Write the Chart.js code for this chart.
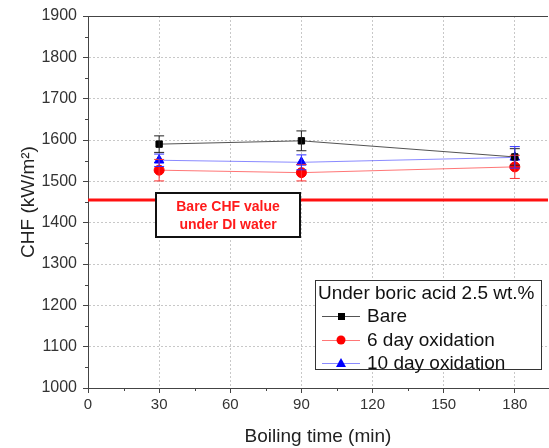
<!DOCTYPE html>
<html>
<head>
<meta charset="utf-8">
<script src="https://cdn.jsdelivr.net/npm/chart.js@4"></script>
<style>
  body { margin: 0; background: #fff; }
  #wrap { width: 549px; height: 448px; }
</style>
</head>
<body>
<div id="wrap"><canvas id="chart" width="549" height="448"></canvas></div>
<script>
// data
const times = [30, 90, 180];
const bare = [1590, 1598, 1559];
const bareErr = [20, 24, 20];
const ox6 = [1527, 1521, 1535];
const ox6Err = [26, 20, 28];
const ox10 = [1551, 1546, 1558];
const ox10Err = [15, 18, 26];
const diWater = 1455;
const xTicks = [0, 30, 60, 90, 120, 150, 180];
const yTicks = [1000, 1100, 1200, 1300, 1400, 1500, 1600, 1700, 1800, 1900];

const FONT = "'Liberation Sans', Arial, sans-serif";

function pts(ys) {
  return times.map((t, i) => ({ x: t, y: ys[i] }));
}

// error bars + minor ticks + frame
const extras = {
  id: 'extras',
  afterDatasetsDraw(c) {
    const ctx = c.ctx, xs = c.scales.x, ys = c.scales.y, a = c.chartArea;
    const errs = [bareErr, ox6Err, ox10Err];
    const cols = ['#222', '#ff3030', '#3030ff'];
    c.data.datasets.slice(0, 3).forEach((ds, k) => {
      ctx.save();
      ctx.strokeStyle = cols[k];
      ctx.lineWidth = 1;
      ds.data.forEach((p, i) => {
        const px = xs.getPixelForValue(p.x);
        const top = ys.getPixelForValue(p.y + errs[k][i]);
        const bot = ys.getPixelForValue(p.y - errs[k][i]);
        ctx.beginPath();
        ctx.moveTo(px, top); ctx.lineTo(px, bot);
        ctx.moveTo(px - 5, top); ctx.lineTo(px + 5, top);
        ctx.moveTo(px - 5, bot); ctx.lineTo(px + 5, bot);
        ctx.stroke();
      });
      ctx.restore();
    });

    // minor ticks
    ctx.save();
    ctx.strokeStyle = '#444';
    ctx.lineWidth = 1;
    ctx.beginPath();
    for (let v = 1050; v < 1900; v += 100) {
      const py = Math.round(ys.getPixelForValue(v)) + 0.5;
      ctx.moveTo(a.left - 3, py); ctx.lineTo(a.left, py);
    }
    for (let v = 15; v < 194; v += 30) {
      const px = Math.round(xs.getPixelForValue(v)) + 0.5;
      ctx.moveTo(px, a.bottom); ctx.lineTo(px, a.bottom + 3);
    }
    // top frame
    ctx.moveTo(a.left, a.top + 0.5); ctx.lineTo(a.right, a.top + 0.5);
    ctx.stroke();
    ctx.restore();

    // annotation box
    ctx.save();
    ctx.fillStyle = '#fff';
    ctx.fillRect(156, 193, 144, 44);
    ctx.strokeStyle = '#111';
    ctx.lineWidth = 2;
    ctx.strokeRect(156, 193, 144, 44);
    ctx.fillStyle = '#ff1a1a';
    ctx.font = 'bold 14px ' + FONT;
    ctx.textAlign = 'center';
    ctx.textBaseline = 'middle';
    ctx.fillText('Bare CHF value', 228, 207);
    ctx.fillText('under DI water', 228, 225);
    ctx.restore();

    // legend
    ctx.save();
    ctx.fillStyle = '#fff';
    ctx.fillRect(315.5, 280.5, 226, 89);
    ctx.strokeStyle = '#333';
    ctx.lineWidth = 1;
    ctx.strokeRect(315.5, 280.5, 226, 89);
    ctx.fillStyle = '#111';
    ctx.font = '19px ' + FONT;
    ctx.textBaseline = 'middle';
    ctx.fillText('Under boric acid 2.5 wt.%', 318, 294);
    const rows = [
      ['Bare', 316, c.data.datasets[0]],
      ['6 day oxidation', 340, c.data.datasets[1]],
      ['10 day oxidation', 363, c.data.datasets[2]]
    ];
    rows.forEach(([label, y, ds]) => {
      ctx.strokeStyle = ds.borderColor;
      ctx.beginPath();
      ctx.moveTo(322, y + 0.5); ctx.lineTo(360, y + 0.5);
      ctx.stroke();
      ctx.fillStyle = ds.pointBackgroundColor;
      ctx.beginPath();
      if (ds.pointStyle === 'rect') {
        ctx.fillRect(338, y - 3, 7, 7);
      } else if (ds.pointStyle === 'circle') {
        ctx.arc(341, y, 4.5, 0, Math.PI * 2);
        ctx.fill();
      } else {
        ctx.moveTo(341, y - 5); ctx.lineTo(346, y + 4); ctx.lineTo(336, y + 4);
        ctx.closePath();
        ctx.fill();
      }
      ctx.fillStyle = '#111';
      ctx.fillText(label, 367, y + 1);
    });
    ctx.restore();
  }
};

new Chart(document.getElementById('chart'), {
  type: 'scatter',
  data: {
    datasets: [
      {
        label: 'Bare', data: pts(bare), showLine: true,
        borderColor: 'rgba(40,40,40,0.8)', borderWidth: 1,
        pointStyle: 'rect', pointRadius: 4.5,
        pointBackgroundColor: '#000', pointBorderColor: '#000'
      },
      {
        label: '6 day oxidation', data: pts(ox6), showLine: true,
        borderColor: 'rgba(255,60,60,0.7)', borderWidth: 1,
        pointStyle: 'circle', pointRadius: 5,
        pointBackgroundColor: '#ff0000', pointBorderColor: '#ff0000'
      },
      {
        label: '10 day oxidation', data: pts(ox10), showLine: true,
        borderColor: 'rgba(60,60,255,0.6)', borderWidth: 1,
        pointStyle: 'triangle', pointRadius: 5.5,
        pointBackgroundColor: '#0000ff', pointBorderColor: '#0000ff'
      },
      {
        label: 'DI water', data: [{ x: 0, y: diWater }, { x: 194, y: diWater }],
        showLine: true, borderColor: '#ff1010', borderWidth: 3, pointRadius: 0
      }
    ]
  },
  options: {
    responsive: false,
    animation: false,
    layout: { autoPadding: false, padding: { top: 16, right: 1, left: 17, bottom: 0 } },
    plugins: { legend: { display: false }, tooltip: { enabled: false } },
    scales: {
      x: {
        type: 'linear', min: 0, max: 194,
        afterBuildTicks: s => { s.ticks = xTicks.map(v => ({ value: v })); },
        afterFit: s => { s.height = 60; s.paddingRight = 0; s.paddingLeft = 0; },
        ticks: { color: '#333', font: { family: FONT, size: 15 }, padding: 3, maxRotation: 0 },
        grid: { color: '#c8c8c8', tickColor: '#444', tickLength: 5, drawTicks: true },
        border: { color: '#444', width: 1, dash: [2, 2] },
        title: { display: true, text: 'Boiling time (min)', color: '#222', font: { family: FONT, size: 19 }, padding: { top: 4, bottom: 0 } }
      },
      y: {
        min: 1000, max: 1900,
        afterBuildTicks: s => { s.ticks = yTicks.map(v => ({ value: v })); },
        afterFit: s => { s.width = 71; s.paddingTop = 0; s.paddingBottom = 0; },
        ticks: { color: '#333', font: { family: FONT, size: 16 }, padding: 6, callback: v => String(v) },
        grid: { color: '#c8c8c8', tickColor: '#444', tickLength: 5, drawTicks: true },
        border: { color: '#444', width: 1, dash: [2, 2] },
        title: { display: true, text: 'CHF (kW/m²)', color: '#222', font: { family: FONT, size: 19 }, padding: { top: 0, bottom: 4 } }
      }
    }
  },
  plugins: [extras]
});
</script>
</body>
</html>
